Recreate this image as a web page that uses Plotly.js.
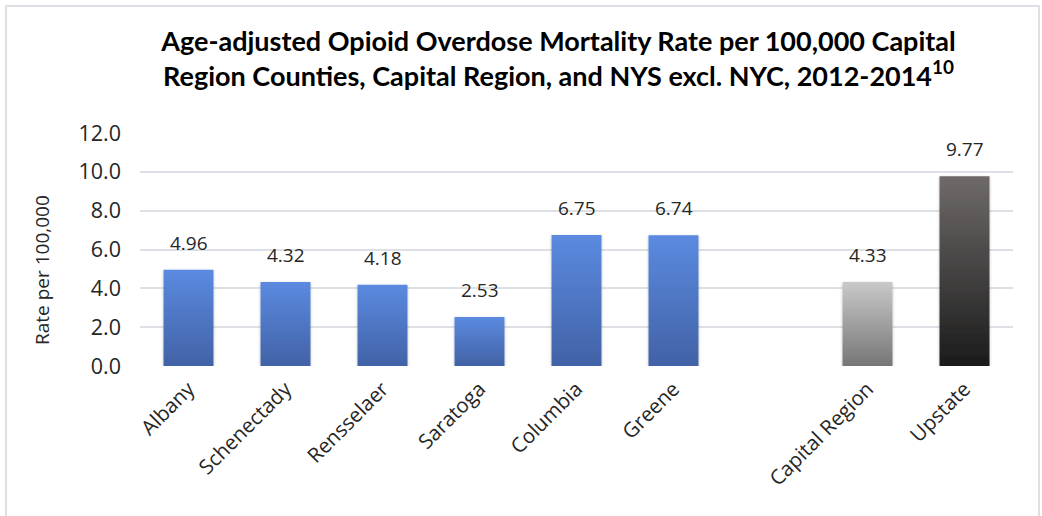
<!DOCTYPE html>
<html>
<head>
<meta charset="utf-8">
<script src="https://cdn.plot.ly/plotly-3.0.1.min.js"></script>
<style>
html,body{margin:0;padding:0;background:#fff;}
#wrap{position:relative;width:1042px;height:516px;overflow:hidden;}
#chart{width:1042px;height:516px;}
#frame{position:absolute;left:5px;top:5px;width:1035px;height:530px;border:2px solid #dde1e6;pointer-events:none;box-sizing:border-box;}
</style>
</head>
<body>
<div id="wrap"><div id="chart"></div><div id="frame"></div></div>
<script>
const categories = ["Albany","Schenectady","Rensselaer","Saratoga","Columbia","Greene"," ","Capital Region","Upstate"];
const rates = [4.96, 4.32, 4.18, 2.53, 6.75, 6.74, null, 4.33, 9.77];
const barGroups = ["county","county","county","county","county","county","county","region","state"];
const yTicks = [0, 2, 4, 6, 8, 10, 12];
const titleText = "Age-adjusted Opioid Overdose Mortality Rate per 100,000 Capital<br>Region Counties, Capital Region, and NYS excl. NYC, 2012-2014<sup>10</sup>";
const yTitle = "Rate per 100,000";

const gradients = {
  county: ["#5b8ae0", "#4162a6"],
  region: ["#c9c9c9", "#767676"],
  state:  ["#6f6a69", "#1b1b1b"]
};
const midColors = {county: "#4e76c3", region: "#a0a0a0", state: "#454241"};

const trace = {
  type: "bar",
  x: categories,
  y: rates,
  marker: {color: barGroups.map(g => midColors[g]), line: {width: 0}},
  hoverinfo: "x+y",
  cliponaxis: false
};

const annotations = categories.map((c, i) => rates[i] == null ? null : ({
  x: c, y: rates[i], xref: "x", yref: "y",
  text: rates[i].toFixed(2), showarrow: false,
  yanchor: "bottom", yshift: 12,
  font: {family: "Open Sans", size: 19, color: "#262626"}
})).filter(a => a);

annotations.push({
  text: yTitle, textangle: -90, showarrow: false,
  xref: "paper", yref: "paper", x: 0, y: 0.412,
  xanchor: "center", yanchor: "middle", xshift: -98,
  font: {family: "Open Sans", size: 19, color: "#262626"}
});

const layout = {
  width: 1042, height: 516,
  margin: {l: 140, r: 29, t: 133, b: 150},
  paper_bgcolor: "#ffffff", plot_bgcolor: "#ffffff",
  bargap: 0.485,
  showlegend: false,
  title: {
    text: titleText,
    font: {family: "Lato", size: 27, color: "#000000", weight: "bold"},
    x: 0.536, xanchor: "center", y: 0.902, yanchor: "top"
  },
  xaxis: {
    type: "category",
    tickvals: categories.filter(c => c.trim() !== ""),
    tickangle: -45,
    tickfont: {family: "Open Sans", size: 20.5, color: "#262626"},
    ticklabelstandoff: 6,
    showgrid: false, showline: false, ticks: "", zeroline: false,
    fixedrange: true
  },
  yaxis: {
    range: [0, 12],
    tickvals: yTicks,
    ticktext: yTicks.map(v => v.toFixed(1)),
    tickfont: {family: "Open Sans", size: 21.5, color: "#262626"},
    gridcolor: "#dde1e6", gridwidth: 2,
    zeroline: false, showline: false, ticks: "",
    ticklabelstandoff: 18,
    fixedrange: true
  },
  annotations: annotations
};

Plotly.newPlot("chart", [trace], layout, {displayModeBar: false, staticPlot: true}).then(gd => {
  const svg = gd.querySelector("svg.main-svg");
  const ns = "http://www.w3.org/2000/svg";
  let defs = svg.querySelector("defs");
  if (!defs) { defs = document.createElementNS(ns, "defs"); svg.insertBefore(defs, svg.firstChild); }
  Object.keys(gradients).forEach(k => {
    const lg = document.createElementNS(ns, "linearGradient");
    lg.setAttribute("id", "grad-" + k);
    lg.setAttribute("x1", "0"); lg.setAttribute("y1", "0");
    lg.setAttribute("x2", "0"); lg.setAttribute("y2", "1");
    [[0, gradients[k][0]], [1, gradients[k][1]]].forEach(([o, c]) => {
      const s = document.createElementNS(ns, "stop");
      s.setAttribute("offset", o); s.setAttribute("stop-color", c);
      lg.appendChild(s);
    });
    defs.appendChild(lg);
  });
  const filt = document.createElementNS(ns, "filter");
  filt.setAttribute("id", "barshadow");
  filt.setAttribute("x", "-20%"); filt.setAttribute("y", "-10%");
  filt.setAttribute("width", "140%"); filt.setAttribute("height", "120%");
  filt.innerHTML = '<feDropShadow dx="0" dy="1" stdDeviation="1.5" flood-color="#000" flood-opacity="0.25"/>';
  defs.appendChild(filt);
  const pts = gd.querySelectorAll(".barlayer .point");
  pts.forEach(p => {
    const i = p.__data__ ? p.__data__.i : null;
    const path = p.querySelector("path");
    if (i == null || !path) return;
    path.style.fill = "url(#grad-" + barGroups[i] + ")";
    path.setAttribute("filter", "url(#barshadow)");
  });
});
</script>
</body>
</html>
